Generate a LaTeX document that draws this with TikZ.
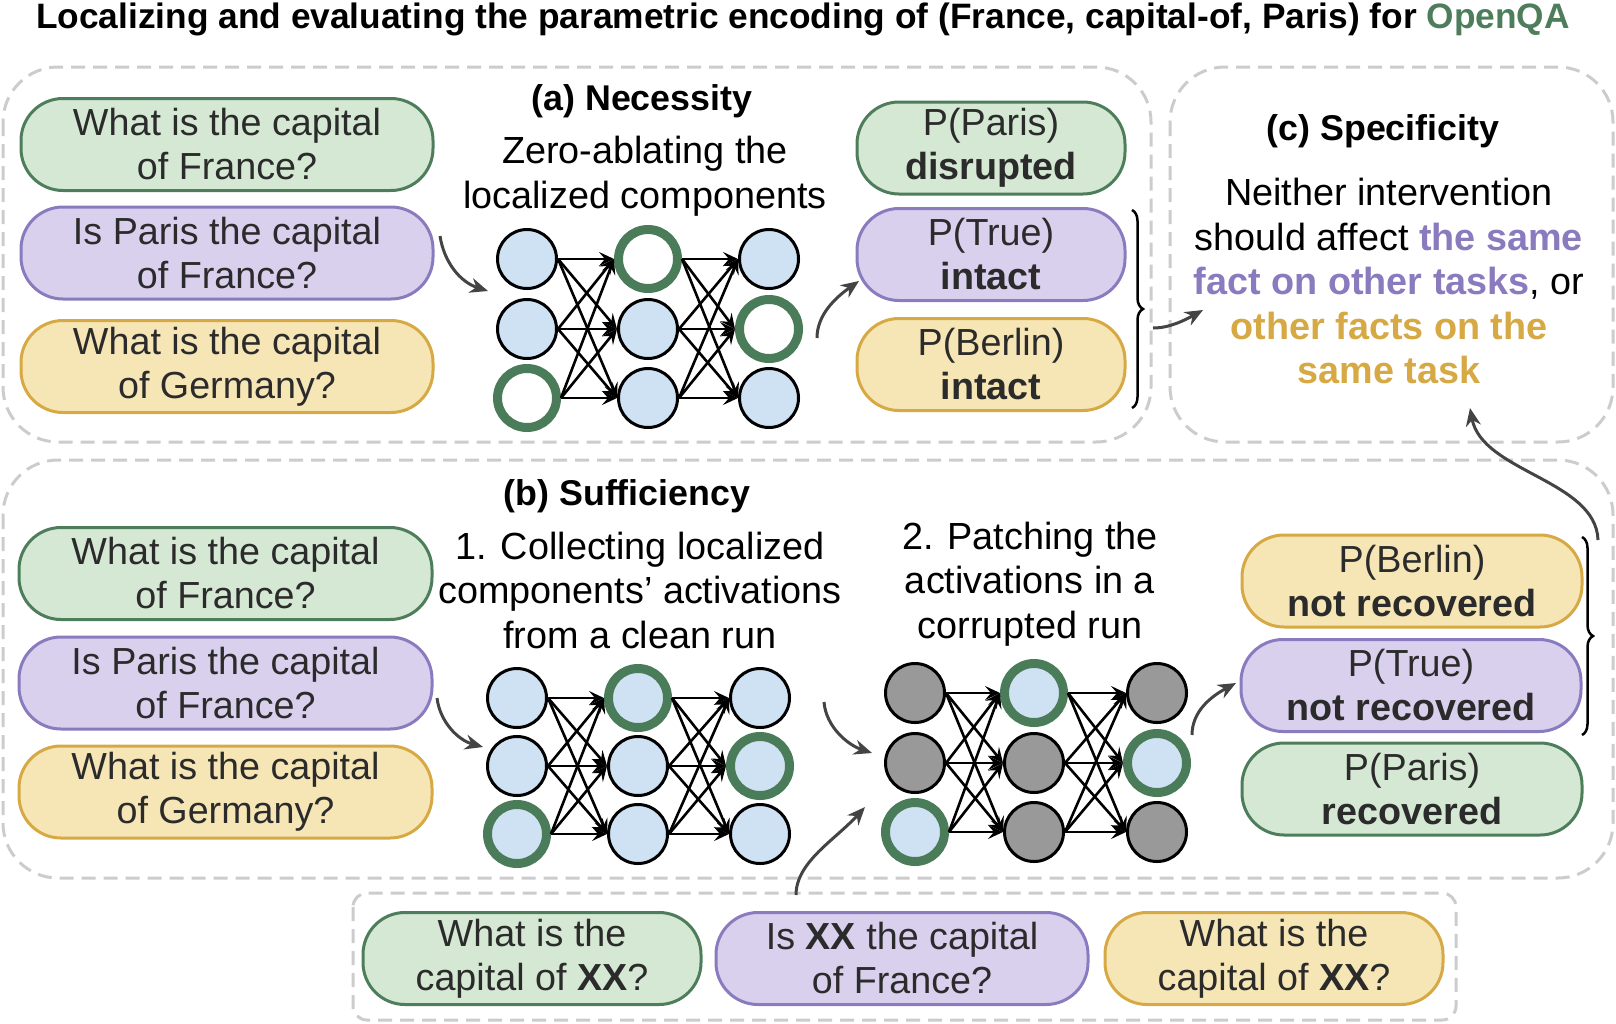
\documentclass[tikz,border=0pt]{standalone}
\usepackage{fontspec}
\setmainfont{Liberation Sans}
\usetikzlibrary{arrows.meta,decorations.pathreplacing}
\definecolor{gfill}{HTML}{D5E8D4}
\definecolor{gline}{HTML}{4D7D5A}
\definecolor{pfill}{HTML}{D9D0EE}
\definecolor{pline}{HTML}{8A7BBE}
\definecolor{yfill}{HTML}{F6E6B6}
\definecolor{yline}{HTML}{D6A944}
\definecolor{nblue}{HTML}{CFE2F3}
\definecolor{ngray}{HTML}{999999}
\definecolor{dgray}{HTML}{CCCCCC}
\definecolor{agray}{HTML}{444444}
\definecolor{txt}{HTML}{2B2B2B}
\definecolor{ring}{HTML}{4A7C59}
\begin{document}
\begin{tikzpicture}[x=1pt,y=-1pt,
  box/.style={draw, rounded corners=42pt, line width=3pt, minimum height=92pt, align=center, inner sep=0pt, text=txt, font=\fontsize{37.7}{44}\selectfont},
  gbox/.style={box, fill=gfill, draw=gline},
  pbox/.style={box, fill=pfill, draw=pline},
  ybox/.style={box, fill=yfill, draw=yline},
  cont/.style={draw=dgray, line width=3pt, dash pattern=on 14pt off 8pt, rounded corners=55pt},
  desc/.style={align=center, inner sep=0pt, font=\fontsize{37.8}{44.5}\selectfont},
  head/.style={anchor=base, inner sep=0pt, font=\bfseries\fontsize{35.8}{40}\selectfont},
  neu/.style={circle, inner sep=0pt, minimum size=59pt, draw=black, line width=3pt, fill=nblue},
  ringw/.style={neu, draw=ring, line width=9pt, fill=white},
  ringb/.style={neu, draw=ring, line width=9pt, fill=nblue},
  gneu/.style={neu, fill=ngray},
  netarr/.style={line width=2.6pt, -{Stealth[length=15pt,width=14pt,inset=6pt]}},
  carr/.style={draw=agray, line width=3pt, -{Stealth[length=18pt,width=15pt]}},
  brc/.style={draw=black, line width=2.5pt, decorate, decoration={brace, amplitude=11pt}}
]
\useasboundingbox (0,0) rectangle (1616,1023);

% containers
\draw[cont] (3,67) rectangle (1151,442);
\draw[cont] (1170,67) rectangle (1613,442);
\draw[cont] (3,460) rectangle (1613,878);
\draw[cont, rounded corners=14pt] (353,893) rectangle (1456,1020);

% title
\node[anchor=base, inner sep=0pt, font=\bfseries\fontsize{35.3}{40}\selectfont] (title) at (803,28) {Localizing and evaluating the parametric encoding of (France, capital-of, Paris) for \textcolor{gline}{OpenQA}};

% (a) necessity
\node[head] (ha) at (642,110) {(a) Necessity};
\node[desc] (da) at (645,176) {Zero-ablating the\\localized components};
\node[gbox, minimum width=412pt] (aq1) at (227,144.5) {What is the capital\\of France?};
\node[pbox, minimum width=412pt] (aq2) at (227,253) {Is Paris the capital\\of France?};
\node[ybox, minimum width=412pt] (aq3) at (227,366.5) {What is the capital\\of Germany?};
\node[gbox, minimum width=268pt] (ao1) at (991,148) {P(Paris)\\\textbf{disrupted}};
\node[pbox, minimum width=268pt] (ao2) at (991,254.5) {P(True)\\\textbf{intact}};
\node[ybox, minimum width=268pt] (ao3) at (991,364.5) {P(Berlin)\\\textbf{intact}};

% network a
\node[neu]   (a11) at (527,259) {};
\node[neu]   (a12) at (527,329) {};
\node[ringw] (a13) at (527,398) {};
\node[ringw] (a21) at (648,259) {};
\node[neu]   (a22) at (648,329) {};
\node[neu]   (a23) at (648,398) {};
\node[neu]   (a31) at (769,259) {};
\node[ringw] (a32) at (769,329) {};
\node[neu]   (a33) at (769,398) {};

% network b1
\node[neu]   (b11) at (517,698) {};
\node[neu]   (b12) at (517,766) {};
\node[ringb] (b13) at (517,834) {};
\node[ringb] (b21) at (638,698) {};
\node[neu]   (b22) at (638,766) {};
\node[neu]   (b23) at (638,834) {};
\node[neu]   (b31) at (760,698) {};
\node[ringb] (b32) at (760,766) {};
\node[neu]   (b33) at (760,834) {};

% network b2
\node[gneu]  (c11) at (915,693) {};
\node[gneu]  (c12) at (915,763) {};
\node[ringb] (c13) at (915,832) {};
\node[ringb] (c21) at (1034,693) {};
\node[gneu]  (c22) at (1034,763) {};
\node[gneu]  (c23) at (1034,832) {};
\node[gneu]  (c31) at (1157,693) {};
\node[ringb] (c32) at (1157,763) {};
\node[gneu]  (c33) at (1157,832) {};

\foreach \n in {a,b,c}{
  \foreach \i in {1,2,3}{
    \foreach \j in {1,2,3}{
      \draw[netarr] (\n1\i.east) -- (\n2\j.west);
      \draw[netarr] (\n2\i.east) -- (\n3\j.west);
    }
  }
}

% (b) sufficiency
\node[head] (hb) at (627,505) {(b) Sufficiency};
\node[desc] (db1) at (640,590) {1. Collecting localized\\components’ activations\\from a clean run};
\node[desc] (db2) at (1030,584) {2. Patching the\\activations in a\\corrupted run};
\node[gbox, minimum width=413pt] (bq1) at (225.5,573.5) {What is the capital\\of France?};
\node[pbox, minimum width=413pt] (bq2) at (225.5,683) {Is Paris the capital\\of France?};
\node[ybox, minimum width=413pt] (bq3) at (225.5,792) {What is the capital\\of Germany?};
\node[ybox, minimum width=340pt] (bo1) at (1412,581) {P(Berlin)\\\textbf{not recovered}};
\node[pbox, minimum width=340pt] (bo2) at (1411,685.5) {P(True)\\\textbf{not recovered}};
\node[gbox, minimum width=340pt] (bo3) at (1412,789) {P(Paris)\\\textbf{recovered}};

% corrupted inputs
\node[gbox, minimum width=338pt] (cq1) at (532,958.5) {What is the\\capital of \textbf{XX}?};
\node[pbox, minimum width=372pt] (cq2) at (902,958.5) {Is \textbf{XX} the capital\\of France?};
\node[ybox, minimum width=338pt] (cq3) at (1274,958.5) {What is the\\capital of \textbf{XX}?};

% (c) specificity
\node[head] (hc) at (1383,140) {(c) Specificity};
\node[desc] (dc) at (1389,281) {Neither intervention\\should affect \textcolor{pline}{\bfseries the same}\\\textcolor{pline}{\bfseries fact on other tasks}, or\\\textcolor{yline}{\bfseries other facts on the}\\\textcolor{yline}{\bfseries same task}};

% braces
\coordinate (ba1) at (1132,210);
\coordinate (ba2) at (1132,408);
\coordinate (bb1) at (1582,537);
\coordinate (bb2) at (1582,735);
\draw[brc] (ba1) -- (ba2);
\draw[brc] (bb1) -- (bb2);

% curved arrows
\coordinate (s1) at (440,236);  \coordinate (e1) at (488,291);
\coordinate (s2) at (817,338);  \coordinate (e2) at (859,281);
\coordinate (s3) at (1153,328); \coordinate (e3) at (1203,310);
\coordinate (s4) at (437,698);  \coordinate (e4) at (483,747);
\coordinate (s5) at (824,702);  \coordinate (e5) at (872,753);
\coordinate (s6) at (796,895);  \coordinate (e6) at (865,807);
\coordinate (s7) at (1192,735); \coordinate (e7) at (1236,683);
\coordinate (s8) at (1598,540); \coordinate (e8) at (1470,408);
\draw[carr] (s1) .. controls (444,262) and (460,282) .. (e1);
\draw[carr] (s2) .. controls (817,315) and (835,298) .. (e2);
\draw[carr] (s3) .. controls (1170,328) and (1185,320) .. (e3);
\draw[carr] (s4) .. controls (440,722) and (458,740) .. (e4);
\draw[carr] (s5) .. controls (826,727) and (848,745) .. (e5);
\draw[carr] (s6) .. controls (796,862) and (835,840) .. (e6);
\draw[carr] (s7) .. controls (1192,712) and (1210,697) .. (e7);
\draw[carr] (s8) .. controls (1596,480) and (1482,472) .. (e8);
\end{tikzpicture}
\end{document}
